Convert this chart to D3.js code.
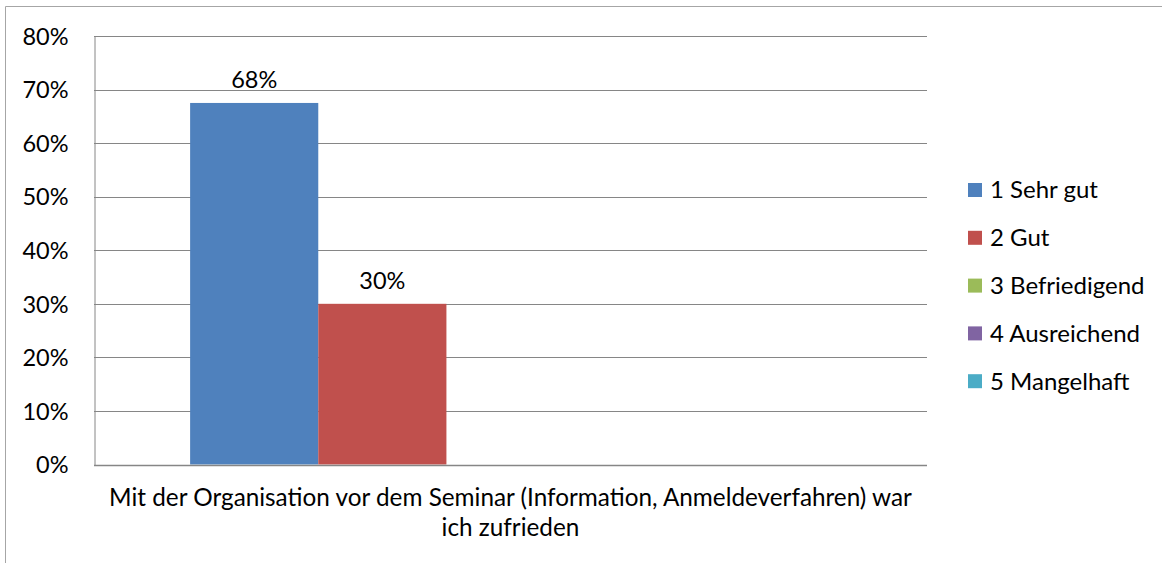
<!DOCTYPE html>
<html>
<head>
<meta charset="utf-8">
<script src="https://cdn.jsdelivr.net/npm/d3@7"></script>
<style>
	body { margin: 0; background: #fff; }
	text { font-family: Lato, "Open Sans", sans-serif; fill: #000; }
</style>
</head>
<body>
<div id="chart"></div>
<script>
	var categories = ["Mit der Organisation vor dem Seminar (Information, Anmeldeverfahren) war ich zufrieden"];
	var categoryLines = ["Mit der Organisation vor dem Seminar (Information, Anmeldeverfahren) war", "ich zufrieden"];
	var seriesNames = ["1 Sehr gut", "2 Gut", "3 Befriedigend", "4 Ausreichend", "5 Mangelhaft"];
	var seriesColors = ["#4F81BD", "#C0504D", "#9BBB59", "#8064A2", "#4BACC6"];
	var seriesValues = [0.675, 0.30, null, null, null];
	var yTicks = [0, 0.1, 0.2, 0.3, 0.4, 0.5, 0.6, 0.7, 0.8];

	var width = 1162, height = 563;
	var margin = { top: 36, right: 235, bottom: 98, left: 94 };
	var fontSize = "23.5px";

	var svg = d3.select("#chart").append("svg")
		.attr("width", width)
		.attr("height", height);

	//Chart border
	svg.append("path")
		.attr("d", "M5.5," + height + "V6.5H" + width)
		.attr("fill", "none")
		.attr("stroke", "#a6a6a6")
		.attr("stroke-width", 1);

	var y = d3.scaleLinear()
		.domain([0, 0.8])
		.range([height - margin.bottom - 0.5, margin.top]);

	var x0 = d3.scaleBand()
		.domain(categories)
		.range([margin.left, width - margin.right]);

	var x1 = d3.scaleBand()
		.domain(seriesNames)
		.range([0, x0.bandwidth()])
		.paddingInner(0)
		.paddingOuter(0.75);

	//Gridlines
	svg.append("g")
		.selectAll("line")
		.data(yTicks.slice(1))
		.enter().append("line")
		.attr("x1", margin.left)
		.attr("x2", width - margin.right)
		.attr("y1", function(d) { return Math.round(y(d)) + 0.5; })
		.attr("y2", function(d) { return Math.round(y(d)) + 0.5; })
		.attr("stroke", "#868686")
		.attr("stroke-width", 1);

	//Bars
	var series = seriesNames.map(function(n, i) { return { name: n, value: seriesValues[i], color: seriesColors[i] }; });

	svg.append("g")
		.selectAll("rect")
		.data(series.filter(function(d) { return d.value !== null; }))
		.enter().append("rect")
		.attr("x", function(d) { return x0(categories[0]) + x1(d.name); })
		.attr("y", function(d) { return y(d.value); })
		.attr("width", x1.bandwidth())
		.attr("height", function(d) { return y(0) - y(d.value); })
		.attr("fill", function(d) { return d.color; });

	//Data labels
	svg.append("g")
		.selectAll("text")
		.data(series.filter(function(d) { return d.value !== null; }))
		.enter().append("text")
		.attr("x", function(d) { return x0(categories[0]) + x1(d.name) + x1.bandwidth() / 2; })
		.attr("y", function(d) { return y(d.value) - 15; })
		.attr("text-anchor", "middle")
		.style("font-size", fontSize)
		.text(function(d) { return d3.format(".0%")(d.value); });

	//Axes
	var yAxis = svg.append("g")
		.attr("transform", "translate(" + (margin.left + 0.5) + ",0)")
		.call(d3.axisLeft(y).tickValues(yTicks).tickFormat(d3.format(".0%")).tickSize(0).tickPadding(26));
	yAxis.select(".domain").attr("stroke", "#868686");
	yAxis.selectAll("text").style("font-size", fontSize).style("font-family", "Lato, sans-serif").attr("dy", "0.35em");

	svg.append("line")
		.attr("x1", margin.left)
		.attr("x2", width - margin.right)
		.attr("y1", Math.round(y(0)) + 0.5)
		.attr("y2", Math.round(y(0)) + 0.5)
		.attr("stroke", "#868686")
		.attr("stroke-width", 1.5);

	//Category label
	svg.append("g")
		.selectAll("text")
		.data(categoryLines)
		.enter().append("text")
		.attr("x", x0(categories[0]) + x0.bandwidth() / 2)
		.attr("y", function(d, i) { return 506 + i * 30; })
		.attr("text-anchor", "middle")
		.style("font-size", "24.3px")
		.text(function(d) { return d; });

	//Legend
	var legend = svg.append("g")
		.selectAll("g")
		.data(series)
		.enter().append("g")
		.attr("transform", function(d, i) { return "translate(968," + (190 + i * 47.8) + ")"; });

	legend.append("rect")
		.attr("x", 0)
		.attr("y", -7)
		.attr("width", 14)
		.attr("height", 14)
		.attr("fill", function(d) { return d.color; });

	legend.append("text")
		.attr("x", 22)
		.attr("dy", "0.35em")
		.style("font-size", "24px")
		.text(function(d) { return d.name; });
</script>
</body>
</html>
